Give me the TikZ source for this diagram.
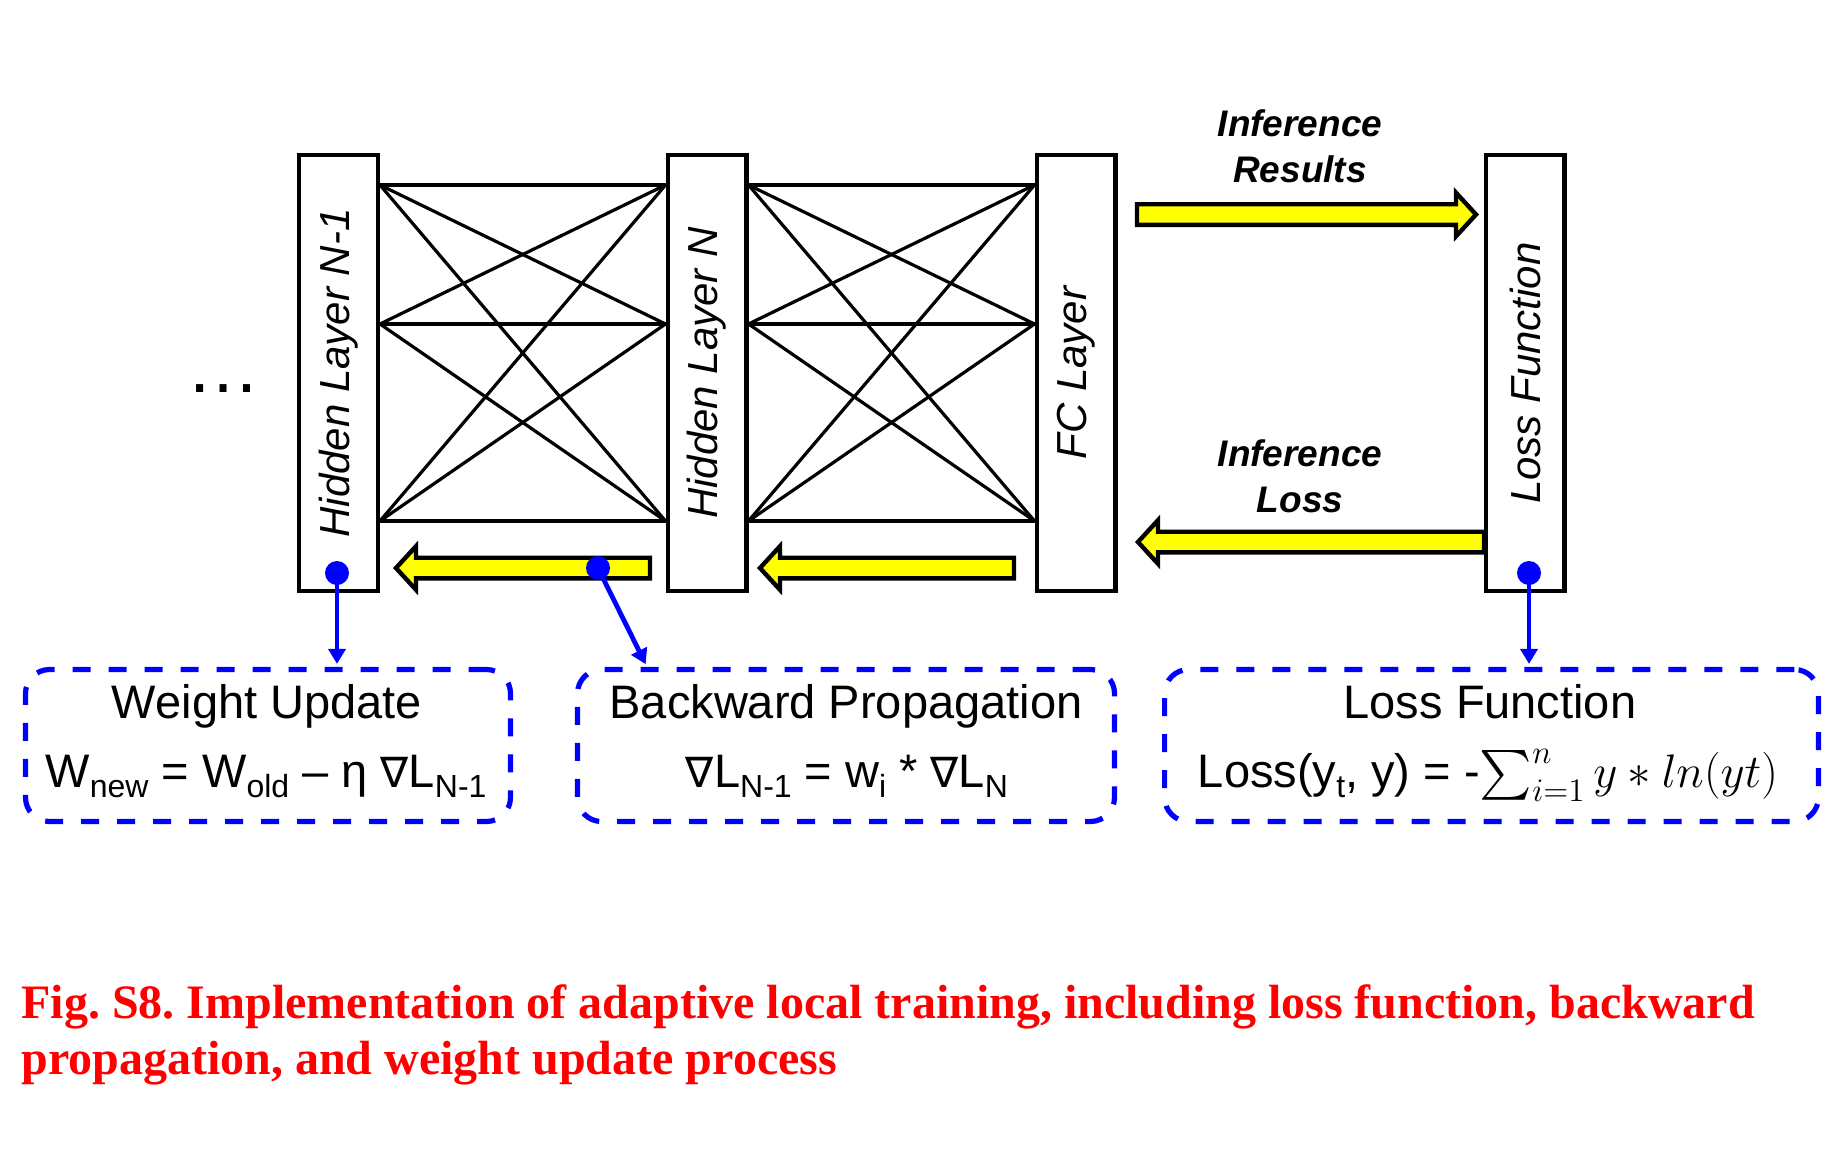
\RequirePackage{fix-cm}
\documentclass[tikz,border=0pt]{standalone}
\usepackage{exscale}
\usepackage{fontspec}
\setmainfont{Liberation Sans}
\newfontfamily\capfont{Liberation Serif}
\newfontfamily\nabfont{DejaVu Sans}
\usetikzlibrary{arrows.meta,calc}
\definecolor{capred}{RGB}{255,0,0}
\definecolor{ablue}{RGB}{0,0,255}
\definecolor{ayellow}{RGB}{255,255,0}
\newcommand\lsub[1]{\raisebox{-5pt}{\fontsize{16pt}{16pt}\selectfont #1}}
\newcommand\nab{{\nabfont\fontsize{21pt}{21pt}\selectfont ∇}}
% tail x, tip x, y, head-base x
\newcommand\yarrow[4]{%
  \draw[yarrowstyle] (#1,{#3-10.3}) -- (#4,{#3-10.3}) -- (#4,{#3-21.8}) -- (#2,#3)
    -- (#4,{#3+21.8}) -- (#4,{#3+10.3}) -- (#1,{#3+10.3}) -- cycle;}
\frenchspacing
\begin{document}
\begin{tikzpicture}[x=0.5pt,y=-0.5pt,
  layer/.style={draw, line width=2.2pt, fill=white, minimum width=39.3pt,
    minimum height=217.8pt, inner sep=0pt, font=\fontsize{21pt}{25pt}\selectfont\itshape},
  conn/.style={line width=1.6pt},
  yarrowstyle/.style={draw=black, fill=ayellow, line width=2.2pt, line join=miter},
  dbox/.style={draw=ablue, line width=2.6pt, dash pattern=on 9pt off 9pt,
    rounded corners=12pt, minimum height=76pt, inner sep=0pt},
  btext/.style={font=\fontsize{23.5pt}{28pt}\selectfont, anchor=base, inner sep=0pt},
  itext/.style={font=\fontsize{18.5pt}{23pt}\selectfont\bfseries\itshape, anchor=base, inner sep=0pt},
  captext/.style={font=\fontsize{24pt}{28pt}\selectfont\capfont\bfseries, text=capred,
    anchor=base west, inner sep=0pt},
  bconn/.style={draw=ablue, line width=2.4pt, -{Triangle[length=7.5pt,width=8.5pt]}},
  bdot/.style={circle, fill=ablue, inner sep=0pt, minimum size=12pt}
]
\useasboundingbox (0,0) rectangle (1840,1156);

% yellow block arrows
\yarrow{1137}{1476}{214.5}{1456}
\yarrow{1484}{1138}{542}{1158}
\yarrow{650}{396}{568}{416}
\yarrow{1014}{760}{568}{780}

% layer boxes
\node[layer] (h1) at (338.5,373) {\rotatebox{90}{Hidden Layer N-1}};
\node[layer] (h2) at (707,373) {\rotatebox{90}{Hidden Layer N}};
\node[layer] (fc) at (1076,373) {\rotatebox{90}{FC Layer}};
\node[layer] (lf) at (1525,373) {\rotatebox{90}{Loss Function}};

% ellipsis
\node[anchor=base, inner sep=0pt, font=\fontsize{37pt}{40pt}\selectfont] (dots) at (223,392) {…};

% full connections
\foreach \i/\yy in {1/185,2/324,3/521}{
  \coordinate (a\i) at (h1.east |- 0,\yy);
  \coordinate (b\i) at (h2.west |- 0,\yy);
  \coordinate (c\i) at (h2.east |- 0,\yy);
  \coordinate (e\i) at (fc.west |- 0,\yy);
}
\foreach \i in {1,2,3}{
  \foreach \j in {1,2,3}{
    \draw[conn] (a\i) -- (b\j);
    \draw[conn] (c\i) -- (e\j);
  }
}

% labels of inference arrows
\node[itext] (ir1) at (1300,136) {Inference};
\node[itext] (ir2) at (1300,182) {Results};
\node[itext] (il1) at (1300,466) {Inference};
\node[itext] (il2) at (1300,512) {Loss};

% dashed boxes
\node[dbox, minimum width=242.5pt] (wu) at (268,745.5) {};
\node[dbox, minimum width=268.5pt] (bp) at (846,745.5) {};
\node[dbox, minimum width=326.9pt] (lb) at (1491.5,745.5) {};

\node[btext] (wut) at (267,718) {Weight Update};
\node[btext] (wuf) at (266,787) {W\lsub{new} = W\lsub{old} – η \nab L\lsub{N-1}};
\node[btext] (bpt) at (846,718) {Backward Propagation};
\node[btext] (bpf) at (847,787) {\nab L\lsub{N-1} = w\lsub{i} * \nab L\lsub{N}};
\node[btext] (lbt) at (1490,718) {Loss Function};
\node[btext] (lbf) at (1488,787) {Loss(y\lsub{t}, y) = -$\sum_{i=1}^{n} y \ast ln(yt)$};

% blue connectors
\coordinate (d1) at (337,573);
\coordinate (d2) at (598,568);
\coordinate (d3) at (1529,573);
\coordinate (t2) at (647,0 |- bp.north);
\draw[bconn, shorten >=1.5pt] (d1) -- (d1 |- wu.north);
\draw[bconn, shorten >=1.5pt] (d2) -- (t2);
\draw[bconn, shorten >=1.5pt] (d3) -- (d3 |- lb.north);
\node[bdot] (dot1) at (d1) {};
\node[bdot] (dot2) at (d2) {};
\node[bdot] (dot3) at (d3) {};

% caption
\node[captext] (cap1) at (21,1018) {Fig. S8. Implementation of adaptive local training, including loss function, backward};
\node[captext] (cap2) at (21,1074) {propagation, and weight update process};
\end{tikzpicture}
\end{document}
